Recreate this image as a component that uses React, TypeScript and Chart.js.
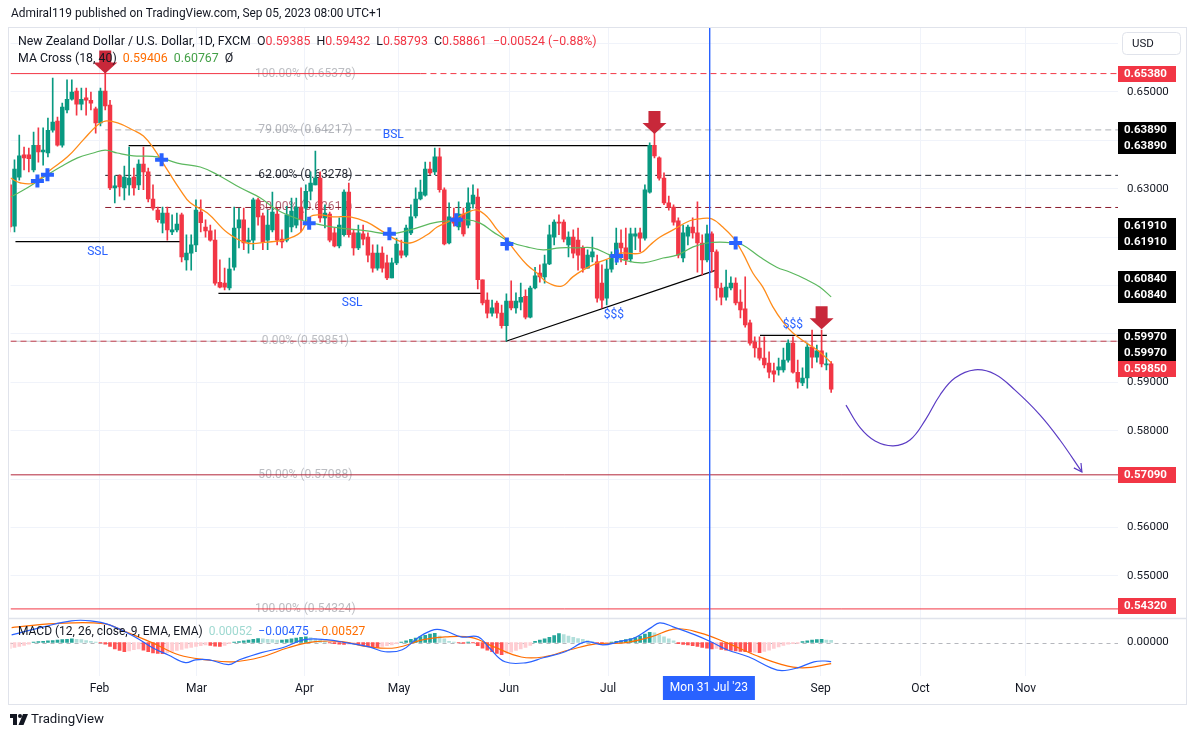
import React, { useEffect, useRef } from "react";
import { Chart, registerables } from "chart.js";

Chart.register(...registerables);

const FONT = "Roboto, 'Liberation Sans', Arial, sans-serif";

// ---------------- DATA ----------------
// daily candles [open, high, low, close], NZD/USD 1D (FXCM)
const candles: number[][] = [
  [0.6308, 0.6318, 0.6211, 0.6221], [0.6223, 0.636, 0.6211, 0.6341], [0.6324, 0.6411, 0.6318, 0.6368], [0.637, 0.6386, 0.6339, 0.6364],
  [0.637, 0.6384, 0.6335, 0.6362], [0.6339, 0.6417, 0.6335, 0.639], [0.639, 0.6426, 0.6355, 0.6376], [0.6376, 0.6426, 0.6349, 0.638],
  [0.6374, 0.6446, 0.6366, 0.6421], [0.6421, 0.6529, 0.6417, 0.6438], [0.644, 0.6448, 0.6388, 0.639], [0.639, 0.6477, 0.6386, 0.6469],
  [0.6463, 0.6525, 0.6457, 0.6485], [0.6485, 0.6525, 0.6483, 0.65], [0.6502, 0.6508, 0.6452, 0.6475], [0.6475, 0.6508, 0.6463, 0.6485],
  [0.6488, 0.6508, 0.6452, 0.6483], [0.6483, 0.65, 0.6463, 0.6477], [0.6465, 0.6469, 0.6415, 0.6436], [0.6436, 0.6508, 0.643, 0.6502],
  [0.6502, 0.6545, 0.6463, 0.6471], [0.6473, 0.6483, 0.6298, 0.6302], [0.6302, 0.6327, 0.6271, 0.6306], [0.6327, 0.6329, 0.6285, 0.6304],
  [0.6302, 0.6347, 0.6277, 0.6324], [0.6308, 0.6386, 0.6287, 0.6322], [0.6324, 0.6343, 0.6287, 0.6302], [0.6308, 0.636, 0.6298, 0.6351],
  [0.6351, 0.6386, 0.6298, 0.6335], [0.6335, 0.6343, 0.6273, 0.6279], [0.6279, 0.6308, 0.6256, 0.626], [0.6256, 0.6262, 0.6231, 0.6236],
  [0.6229, 0.6262, 0.6209, 0.625], [0.625, 0.6262, 0.6194, 0.6215], [0.6211, 0.6246, 0.6205, 0.6215], [0.6215, 0.625, 0.6211, 0.6227],
  [0.6246, 0.625, 0.6149, 0.6159], [0.6153, 0.6205, 0.6132, 0.6167], [0.6167, 0.6205, 0.6132, 0.6184], [0.6184, 0.6277, 0.617, 0.6256],
  [0.6252, 0.6277, 0.6211, 0.623], [0.6221, 0.6236, 0.62, 0.6213], [0.6213, 0.6225, 0.6192, 0.6194], [0.6194, 0.6215, 0.6101, 0.6105],
  [0.6107, 0.6153, 0.6095, 0.6097], [0.6105, 0.6136, 0.6091, 0.6097], [0.6095, 0.6157, 0.6091, 0.6134], [0.6138, 0.6262, 0.6132, 0.6219],
  [0.6219, 0.626, 0.6178, 0.6236], [0.6236, 0.626, 0.6174, 0.6188], [0.619, 0.6219, 0.6167, 0.6194], [0.6194, 0.6281, 0.6174, 0.6277],
  [0.6277, 0.6281, 0.6225, 0.6242], [0.6244, 0.625, 0.6174, 0.619], [0.6194, 0.6256, 0.6174, 0.6225], [0.6215, 0.6293, 0.6211, 0.6252],
  [0.6248, 0.626, 0.6184, 0.6194], [0.6196, 0.6215, 0.6178, 0.619], [0.6194, 0.6264, 0.619, 0.6246], [0.6221, 0.6281, 0.6211, 0.6254],
  [0.6225, 0.6281, 0.6219, 0.6262], [0.6262, 0.6302, 0.6211, 0.6236], [0.626, 0.6308, 0.6225, 0.6295], [0.6295, 0.6335, 0.6277, 0.6312],
  [0.6308, 0.6378, 0.6308, 0.6322], [0.6322, 0.6335, 0.6231, 0.624], [0.624, 0.6267, 0.6219, 0.625], [0.6248, 0.6252, 0.619, 0.6194],
  [0.6209, 0.6219, 0.618, 0.6182], [0.6182, 0.624, 0.6178, 0.6225], [0.6205, 0.6298, 0.6202, 0.6293], [0.6293, 0.6312, 0.62, 0.6205],
  [0.6209, 0.6215, 0.6163, 0.6178], [0.6178, 0.6225, 0.6174, 0.6209], [0.6207, 0.6225, 0.6184, 0.6196], [0.62, 0.6209, 0.6149, 0.6163],
  [0.6167, 0.6184, 0.6128, 0.6136], [0.6136, 0.6184, 0.6132, 0.6167], [0.6167, 0.618, 0.6128, 0.6136], [0.6147, 0.6163, 0.6112, 0.6116],
  [0.6116, 0.6157, 0.6116, 0.6147], [0.6147, 0.6198, 0.6143, 0.6186], [0.6172, 0.6194, 0.6157, 0.6163], [0.6163, 0.6225, 0.6159, 0.6219],
  [0.6209, 0.6267, 0.6205, 0.6242], [0.6244, 0.6302, 0.624, 0.6279], [0.6279, 0.6318, 0.6277, 0.6293], [0.6287, 0.6355, 0.6285, 0.6341],
  [0.6341, 0.6355, 0.6329, 0.6333], [0.6335, 0.6384, 0.6329, 0.6366], [0.6366, 0.6384, 0.6293, 0.6298], [0.6298, 0.6302, 0.6184, 0.6186],
  [0.6188, 0.6271, 0.6186, 0.6242], [0.624, 0.626, 0.6223, 0.6229], [0.6221, 0.6273, 0.6215, 0.6248], [0.6248, 0.626, 0.6202, 0.6207],
  [0.6225, 0.6302, 0.6219, 0.6271], [0.6269, 0.6308, 0.626, 0.6287], [0.6283, 0.63, 0.6093, 0.6112], [0.6112, 0.6112, 0.606, 0.6064],
  [0.607, 0.6085, 0.6033, 0.6043], [0.6043, 0.607, 0.6037, 0.6054], [0.6064, 0.6068, 0.6033, 0.6043], [0.6043, 0.606, 0.6012, 0.6017],
  [0.6017, 0.6083, 0.5985, 0.6068], [0.6068, 0.611, 0.605, 0.6054], [0.6054, 0.6085, 0.6043, 0.6068], [0.6066, 0.6105, 0.605, 0.6076],
  [0.6078, 0.6091, 0.6031, 0.6035], [0.6035, 0.6099, 0.6033, 0.6095], [0.6095, 0.6138, 0.6093, 0.612], [0.6126, 0.6143, 0.6107, 0.6118],
  [0.6118, 0.6163, 0.6105, 0.6145], [0.6145, 0.6225, 0.6143, 0.6205], [0.62, 0.6236, 0.6184, 0.6231], [0.6231, 0.6246, 0.6205, 0.6229],
  [0.6231, 0.6236, 0.619, 0.6196], [0.6184, 0.6211, 0.6159, 0.62], [0.62, 0.6215, 0.6157, 0.6167], [0.6194, 0.6219, 0.6132, 0.6163],
  [0.6178, 0.6182, 0.6128, 0.6136], [0.6136, 0.6174, 0.6136, 0.6163], [0.6159, 0.62, 0.6149, 0.617], [0.6149, 0.6163, 0.6066, 0.6074],
  [0.6105, 0.6143, 0.6054, 0.607], [0.6074, 0.6153, 0.606, 0.6134], [0.6134, 0.617, 0.6128, 0.6163], [0.6163, 0.6219, 0.6143, 0.6188],
  [0.6188, 0.6215, 0.6149, 0.6178], [0.6178, 0.6219, 0.6143, 0.6153], [0.6155, 0.6219, 0.6149, 0.6207], [0.6202, 0.6219, 0.6174, 0.6207],
  [0.6209, 0.6219, 0.617, 0.6198], [0.6198, 0.6308, 0.6194, 0.6298], [0.6293, 0.6395, 0.6291, 0.639], [0.639, 0.6415, 0.6364, 0.6368],
  [0.6364, 0.6366, 0.6318, 0.6322], [0.6322, 0.6333, 0.6267, 0.6271], [0.6271, 0.6285, 0.6256, 0.6262], [0.6262, 0.6267, 0.6225, 0.6231],
  [0.6234, 0.624, 0.6157, 0.6163], [0.6157, 0.6225, 0.6149, 0.6209], [0.6202, 0.6225, 0.6184, 0.6221], [0.6221, 0.624, 0.6198, 0.6209],
  [0.6209, 0.6273, 0.6128, 0.6188], [0.6188, 0.6205, 0.6122, 0.6153], [0.6153, 0.6225, 0.6149, 0.6207], [0.6207, 0.6211, 0.6128, 0.617],
  [0.617, 0.6174, 0.607, 0.6095], [0.6095, 0.6105, 0.606, 0.6076], [0.6076, 0.6132, 0.607, 0.6097], [0.6095, 0.6118, 0.6091, 0.6105],
  [0.6105, 0.6116, 0.606, 0.6064], [0.6066, 0.6091, 0.6033, 0.605], [0.6052, 0.6118, 0.6014, 0.6019], [0.6023, 0.6029, 0.5977, 0.5981],
  [0.5983, 0.5994, 0.5952, 0.5971], [0.5971, 0.5994, 0.5946, 0.595], [0.595, 0.5994, 0.593, 0.5936], [0.594, 0.5963, 0.5909, 0.5921],
  [0.5924, 0.594, 0.5901, 0.5917], [0.5926, 0.595, 0.5915, 0.5932], [0.5926, 0.5971, 0.5921, 0.5946], [0.5946, 0.5988, 0.5942, 0.5981],
  [0.5981, 0.5994, 0.5919, 0.5921], [0.5921, 0.5946, 0.5888, 0.5901], [0.5899, 0.593, 0.5893, 0.5909], [0.5909, 0.5981, 0.5888, 0.5973],
  [0.5973, 0.6008, 0.593, 0.5952], [0.5952, 0.5977, 0.5942, 0.5965], [0.5965, 0.6008, 0.5932, 0.5938], [0.5936, 0.5961, 0.5926, 0.59385],
  [0.59385, 0.59432, 0.58793, 0.58861],
];

// MA Cross (18, 40): [bar index, value]
const ma18: number[][] = [
  [0.2, 0.6322], [2.3, 0.6312], [5, 0.6312], [8.5, 0.6339], [12.1, 0.6366], [15.4, 0.6401], [18.4, 0.6432], [20, 0.644],
  [22.6, 0.6436], [25.9, 0.6421], [28, 0.6409], [30.1, 0.6384], [33, 0.6339], [35.7, 0.6298], [37.8, 0.6271], [41.4, 0.625],
  [45.6, 0.6209], [49.7, 0.6188], [53.9, 0.619], [57.3, 0.6194], [60.8, 0.6209], [62.9, 0.6242], [65, 0.6246], [67.7, 0.6242],
  [71.3, 0.6242], [74.8, 0.6231], [78.2, 0.6211], [81.1, 0.6194], [83.8, 0.6188], [87.4, 0.6205], [89.5, 0.6221], [92.8, 0.6236],
  [96, 0.6252], [97.9, 0.6256], [100, 0.6242], [102.1, 0.6215], [104.1, 0.6194], [106.2, 0.6167], [108.3, 0.6143], [110.4, 0.6126],
  [112.5, 0.6107], [115.6, 0.6099], [117.9, 0.6118], [120, 0.6132], [123, 0.6147], [125.7, 0.6157], [127.8, 0.6167], [132, 0.6167],
  [134.1, 0.6184], [136.1, 0.62], [138.9, 0.6215], [142.4, 0.6234], [144.5, 0.6238], [147, 0.6238], [149.3, 0.6221], [151.4, 0.62],
  [153.5, 0.6167], [155.6, 0.6126], [157.7, 0.6097], [159.8, 0.6056], [161.9, 0.6025], [164, 0.6002], [166.9, 0.5981], [169.6, 0.5963],
  [172, 0.59406],
];
const ma40: number[][] = [
  [0.2, 0.6283], [3.7, 0.6302], [7.1, 0.6324], [10.6, 0.6345], [14.2, 0.6364], [17.5, 0.6374], [20, 0.638], [22.5, 0.6374],
  [25.9, 0.6368], [30.9, 0.6366], [35.1, 0.6353], [39.9, 0.6345], [43.5, 0.6329], [48.3, 0.6302], [52.5, 0.6281], [56, 0.6256],
  [60.8, 0.6236], [64.4, 0.6227], [67.7, 0.6221], [74.8, 0.6213], [79.7, 0.6207], [83.8, 0.6215], [89.5, 0.6231], [95.8, 0.6236],
  [98.5, 0.6229], [101.2, 0.6211], [104.8, 0.619], [108.3, 0.618], [111.7, 0.6174], [115.2, 0.6178], [118.8, 0.6178], [122.1, 0.6178],
  [125.7, 0.6163], [128.4, 0.6153], [132.6, 0.6147], [136.8, 0.6157], [139.7, 0.6163], [143.1, 0.618], [146, 0.6188], [148.7, 0.619],
  [151.4, 0.6188], [153.5, 0.6184], [157.1, 0.6159], [160.6, 0.6138], [163.3, 0.6128], [166.9, 0.6112], [169.6, 0.6097], [172, 0.60767],
];
const maCrosses: number[][] = [
  [5.8, 0.6316], [7.9, 0.6329], [31.8, 0.636], [62.7, 0.6229], [79.5, 0.6207], [93.5, 0.6236], [104.1, 0.6186], [127.1, 0.6161], [152.0, 0.6188],
];

// MACD (12, 26, close, 9)
const macdLine: number[][] = [
  [0.4, 0.0019], [7.1, 0.0039], [12.9, 0.0054], [16.9, 0.0054], [20.9, 0.0044], [26.5, 0.0012], [29.9, -0.0013], [33.2, -0.0031],
  [36.8, -0.005], [38.9, -0.0043], [41.8, -0.0043], [45.8, -0.0055], [48.1, -0.0043], [52.7, -0.0025], [57.1, -0.0013], [61.7, 0.0007],
  [66.3, 0.0007], [70.7, -0.0001], [75.3, -0.0011], [78.6, -0.0023], [82.2, -0.0018], [85.5, 0.0012], [88.9, 0.0032], [91.2, 0.0029],
  [94.5, 0.0014], [98.1, 0.0014], [100.4, -0.0013], [103.7, -0.0048], [108.3, -0.005], [111.7, -0.0038], [116.3, -0.0023], [120.7, 0.0002],
  [124.2, -0.0006], [127.6, 0.0002], [130.9, 0.0012], [134.3, 0.0037], [136.1, 0.0049], [138.9, 0.0039], [143.5, 0.0019], [146.8, 0.0002],
  [150.2, -0.0018], [154.8, -0.0036], [159.4, -0.0063], [161.7, -0.007], [165.0, -0.0063], [168.4, -0.0048], [170.7, -0.0046], [172, -0.00475],
];
const signalLine: number[][] = [
  [0.4, 0.0037], [9.4, 0.0047], [19.6, 0.0047], [24.2, 0.0027], [29.9, -0.0001], [35.5, -0.0031], [41.2, -0.0043], [46.8, -0.0048],
  [52.7, -0.0036], [58.3, -0.0013], [64, 0.0002], [69.6, 0.0002], [75.3, -0.0011], [80.9, -0.0013], [86.6, 0.0007], [91.2, 0.0014],
  [96.8, 0.0012], [101.4, -0.0011], [107.1, -0.0036], [111.7, -0.0036], [117.3, -0.0018], [123, -0.0003], [128.6, -0.0001], [134.3, 0.0014],
  [139.5, 0.0034], [144.5, 0.0024], [150.2, -0.0001], [156.0, -0.0031], [161.7, -0.0055], [166.1, -0.0063], [172, -0.00527],
];
const macdHist: number[] = [
  -0.0015, -0.0012, -0.001, -0.0007, -0.0004, 0.0001, 0.0002, 0.0003, 0.0004, 0.0005, 0.0006, 0.0007, 0.0008, 0.0009, 0.0008, 0.0007,
  0.0005, 0.0003, 0.0001, -0.0001, -0.0004, -0.001, -0.0016, -0.002, -0.0023, -0.0021, -0.0018, -0.0016, -0.0019, -0.0023, -0.0026, -0.0027,
  -0.0028, -0.0025, -0.0022, -0.002, -0.0017, -0.0014, -0.0012, -0.001, -0.0008, -0.0006, -0.0007, -0.0009, -0.001, -0.0007, -0.0003, 0.0001,
  0.0002, 0.0004, 0.0006, 0.0008, 0.001, 0.0009, 0.0008, 0.0007, 0.0006, 0.0006, 0.0007, 0.0009, 0.0011, 0.0013, 0.0014, 0.0012,
  0.0009, 0.0006, 0.0003, -0.0001, -0.0003, -0.0004, -0.0005, -0.0004, -0.0003, -0.0005, -0.0007, -0.0009, -0.0011, -0.0012, -0.001, -0.0008,
  -0.0006, -0.0003, 0.0001, 0.0004, 0.0008, 0.0011, 0.0015, 0.0018, 0.0021, 0.0023, 0.0016, 0.0009, 0.0003, 0.0001, -0.0001, -0.0002,
  0.0001, -0.0001, -0.0008, -0.0014, -0.0019, -0.0023, -0.0027, -0.003, -0.0027, -0.0024, -0.002, -0.0016, -0.0012, -0.0007, 0.0003, 0.0006,
  0.0009, 0.0013, 0.0017, 0.0022, 0.002, 0.0016, 0.0013, 0.001, 0.0008, 0.0005, 0.0002, -0.0003, -0.0004, -0.0002, 0.0001, 0.0003,
  0.0005, 0.0007, 0.001, 0.0012, 0.0016, 0.0021, 0.0025, 0.0024, 0.0019, 0.0014, 0.0009, 0.0004, -0.0003, -0.0005, -0.0006, -0.0008,
  -0.001, -0.0012, -0.0014, -0.0016, -0.0015, -0.0017, -0.0019, -0.002, -0.0021, -0.0022, -0.0023, -0.0024, -0.0024, -0.0025, -0.0022, -0.0019,
  -0.0015, -0.0011, -0.0007, -0.0004, -0.0003, -0.0002, 0.0002, 0.0004, 0.0006, 0.0007, 0.0008, 0.0006, 0.00052,
];

// time axis
const monthTickIdx: number[] = [18.8, 39.1, 61.7, 81.5, 104.6, 125.3, 146.6, 169.8, 190.7, 212.7];
const monthLabels: string[] = ["Feb", "Mar", "Apr", "May", "Jun", "Jul", "Aug", "Sep", "Oct", "Nov"];
const priceTicks: number[] = [0.55, 0.56, 0.57, 0.58, 0.59, 0.6, 0.61, 0.62, 0.63, 0.64, 0.65, 0.66];
const crosshairIdx = 146.4;
const crosshairLabel = "Mon 31 Jul '23";

// horizontal levels
const redLevels: number[] = [0.6538, 0.5985, 0.5709, 0.5432];
const fibPercents: string[] = ["100.00%", "79.00%", "62.00%", "50.00%", "0.00%", "50.00%", "100.00%"];
const fibValues: number[] = [0.65378, 0.64217, 0.63278, 0.62614, 0.59851, 0.57088, 0.54324];
const fibStartIdx = 20;
const fibLabelIdx = 61.9;
const axisMarks: number[] = [0.6538, 0.6389, 0.6389, 0.6191, 0.6191, 0.6084, 0.6084, 0.5997, 0.5997, 0.5985, 0.5709, 0.5432];

// drawn structure
const bslLine: number[][] = [[24.9, 0.6389], [134.5, 0.6389]];
const sslLine1: number[][] = [[1.2, 0.6191], [35.7, 0.6191]];
const sslLine2: number[][] = [[43.7, 0.6084], [99.2, 0.6084]];
const trendLine: number[][] = [[103.9, 0.5985], [147.9, 0.6132]];
const liquidityLine: number[][] = [[157.1, 0.5997], [171.1, 0.5997]];
const textNotes: [string, number, number][] = [
  ["BSL", 80.3, 0.6411], ["SSL", 18.4, 0.617], ["SSL", 71.7, 0.6064], ["$$$", 126.5, 0.6039], ["$$$", 164.0, 0.6019],
];
const arrowTips: number[][] = [[20, 0.6538], [135, 0.6413], [170, 0.601]];
const projection: number[][] = [
  [175.1, 0.5853], [178.1, 0.5806], [181.2, 0.5779], [185.0, 0.5769], [188.5, 0.5781], [191.7, 0.5822], [194.8, 0.5874],
  [197.9, 0.5909], [202.1, 0.5926], [206.3, 0.5917], [210.5, 0.5884], [215.7, 0.5833], [219.9, 0.5781], [224.5, 0.5715],
];

// ---------------- CHART ----------------
const X_MIN = 0.163, X_MAX = 232.06;
const P_MIN = 0.541322, P_MAX = 0.663223;
const M_MIN = -0.008333, M_MAX = 0.006095;

const UP = "#089981", DOWN = "#f23645", DARK = "#131722", BLUE = "#2962ff";

const pts = (a: number[][]) => a.map((p) => ({ x: p[0], y: p[1] }));

function fitSize(ctx: CanvasRenderingContext2D, text: string, width: number, weight = "") {
  ctx.font = `${weight} 100px ${FONT}`;
  return (100 * width) / ctx.measureText(text).width;
}
function drawSegs(ctx: CanvasRenderingContext2D, x: number, y: number, size: number, segs: [string, string][]) {
  ctx.font = `${size}px ${FONT}`;
  ctx.textBaseline = "middle";
  ctx.textAlign = "left";
  let cx = x;
  for (const [t, c] of segs) {
    ctx.fillStyle = c;
    ctx.fillText(t, cx, y);
    cx += ctx.measureText(t).width;
  }
}

const overlay = {
  id: "overlay",
  beforeDraw(chart: any) {
    const { ctx, width, height } = chart;
    ctx.save();
    ctx.fillStyle = "#ffffff";
    ctx.fillRect(0, 0, width, height);
    ctx.restore();
  },
  beforeDatasetsDraw(chart: any) {
    const { ctx, chartArea } = chart;
    const xs = chart.scales.x, ys = chart.scales.y, ms = chart.scales.macd;
    ctx.save();
    // pane separator
    ctx.strokeStyle = "#e0e3eb";
    ctx.lineWidth = 1.5;
    ctx.beginPath();
    ctx.moveTo(8, ys.bottom + 0.5);
    ctx.lineTo(1186, ys.bottom + 0.5);
    ctx.stroke();
    // macd zero line
    const z = Math.round(ms.getPixelForValue(0)) + 0.5;
    ctx.strokeStyle = "rgba(120,123,134,0.55)";
    ctx.lineWidth = 1;
    ctx.setLineDash([4, 4]);
    ctx.beginPath();
    ctx.moveTo(chartArea.left, z);
    ctx.lineTo(chartArea.right, z);
    ctx.stroke();
    ctx.setLineDash([]);
    // fib labels
    const fibColors = ["rgba(120,123,134,0.5)", "rgba(120,123,134,0.55)", "rgba(19,23,34,0.9)", "rgba(136,14,40,0.65)",
      "rgba(120,123,134,0.5)", "rgba(120,123,134,0.5)", "rgba(120,123,134,0.5)"];
    const size = fitSize(ctx, "79.00% (0.64217)", 94);
    ctx.font = `${size}px ${FONT}`;
    ctx.textAlign = "center";
    ctx.textBaseline = "middle";
    fibValues.forEach((v, i) => {
      ctx.fillStyle = fibColors[i];
      ctx.fillText(`${fibPercents[i]} (${v.toFixed(5)})`, xs.getPixelForValue(fibLabelIdx), ys.getPixelForValue(v));
    });
    ctx.restore();
  },
  afterDatasetsDraw(chart: any) {
    const { ctx } = chart;
    const xs = chart.scales.x, ys = chart.scales.y;
    ctx.save();
    // notes
    ctx.fillStyle = BLUE;
    ctx.font = `12px ${FONT}`;
    ctx.textAlign = "center";
    ctx.textBaseline = "middle";
    textNotes.forEach(([t, i, v]) => ctx.fillText(t, xs.getPixelForValue(i), ys.getPixelForValue(v)));
    // arrows
    ctx.fillStyle = "#c8283a";
    arrowTips.forEach(([i, v]) => {
      const x = xs.getPixelForValue(i), y = ys.getPixelForValue(v);
      ctx.beginPath();
      ctx.moveTo(x - 6, y - 23);
      ctx.lineTo(x + 6, y - 23);
      ctx.lineTo(x + 6, y - 11);
      ctx.lineTo(x + 12, y - 11);
      ctx.lineTo(x, y);
      ctx.lineTo(x - 12, y - 11);
      ctx.lineTo(x - 6, y - 11);
      ctx.closePath();
      ctx.fill();
    });
    // projection arrow head
    const n = projection.length;
    const ex = xs.getPixelForValue(projection[n - 1][0]), ey = ys.getPixelForValue(projection[n - 1][1]);
    const px = xs.getPixelForValue(projection[n - 2][0]), py = ys.getPixelForValue(projection[n - 2][1]);
    const ang = Math.atan2(ey - py, ex - px);
    ctx.strokeStyle = "#5b3cc4";
    ctx.lineWidth = 1.2;
    ctx.beginPath();
    ctx.moveTo(ex - 9 * Math.cos(ang - 0.5), ey - 9 * Math.sin(ang - 0.5));
    ctx.lineTo(ex, ey);
    ctx.lineTo(ex - 9 * Math.cos(ang + 0.5), ey - 9 * Math.sin(ang + 0.5));
    ctx.stroke();
    ctx.restore();
  },
  afterDraw(chart: any) {
    const { ctx, chartArea } = chart;
    const xs = chart.scales.x, ys = chart.scales.y;
    ctx.save();
    // crosshair vertical line
    const cxl = Math.round(xs.getPixelForValue(crosshairIdx));
    ctx.fillStyle = BLUE;
    ctx.fillRect(cxl, chartArea.top, 1.4, chartArea.bottom + 24 - chartArea.top);
    // axis value boxes
    const offsets = [0, -16, 0, -16, 0, -14, 2, 2, 18, 28, 0, -3];
    const red = [true, false, false, false, false, false, false, false, false, true, true, true];
    axisMarks.forEach((v, i) => {
      const y = ys.getPixelForValue(v) + offsets[i];
      ctx.fillStyle = red[i] ? DOWN : "#000000";
      ctx.fillRect(chartArea.right, Math.round(y - 8), 58, 16);
      ctx.fillStyle = "#ffffff";
      ctx.font = `bold 11.5px ${FONT}`;
      ctx.textAlign = "left";
      ctx.textBaseline = "middle";
      ctx.fillText(v.toFixed(5), chartArea.right + 6, Math.round(y) + 0.5);
    });
    // time label
    const cx = xs.getPixelForValue(crosshairIdx);
    ctx.fillStyle = BLUE;
    ctx.fillRect(cx - 46, chartArea.bottom, 92, 24);
    ctx.fillStyle = "#ffffff";
    ctx.font = `12px ${FONT}`;
    ctx.textAlign = "center";
    ctx.textBaseline = "middle";
    ctx.fillText(crosshairLabel, cx, chartArea.bottom + 12);
    // legends
    const last = candles[candles.length - 1];
    const prev = candles[candles.length - 2];
    const chg = last[3] - prev[3];
    const minus = (v: number, d: number) => (v < 0 ? "\u2212" : "") + Math.abs(v).toFixed(d);
    const s1 = fitSize(ctx, "New Zealand Dollar / U.S. Dollar, 1D, FXCM", 233);
    drawSegs(ctx, 18, 42, s1, [
      ["New Zealand Dollar / U.S. Dollar, 1D, FXCM", DARK], ["  O", DARK], [last[0].toFixed(5), DOWN],
      ["  H", DARK], [last[1].toFixed(5), DOWN], ["  L", DARK], [last[2].toFixed(5), DOWN],
      ["  C", DARK], [last[3].toFixed(5), DOWN], [`  ${minus(chg, 5)} (${minus((chg / prev[3]) * 100, 2)}%)`, DOWN],
    ]);
    drawSegs(ctx, 18, 59, s1, [
      ["MA Cross (18, 40)", DARK], ["  " + ma18[ma18.length - 1][1].toFixed(5), "#ff6d00"],
      ["  " + ma40[ma40.length - 1][1].toFixed(5), "#43a047"], ["  \u00d8", DARK],
    ]);
    const s3 = fitSize(ctx, "MACD (12, 26, close, 9, EMA, EMA)", 185);
    drawSegs(ctx, 18, 632, s3, [
      ["MACD (12, 26, close, 9, EMA, EMA)", DARK], ["  " + macdHist[macdHist.length - 1].toFixed(5), "#9fd9d1"],
      ["  " + minus(macdLine[macdLine.length - 1][1], 5), BLUE],
      ["  " + minus(signalLine[signalLine.length - 1][1], 5), "#ff6d00"],
    ]);
    // title
    const st = fitSize(ctx, "Admiral119 published on TradingView.com, Sep 05, 2023 08:00 UTC+1", 372);
    drawSegs(ctx, 11, 14, st, [["Admiral119 published on TradingView.com, Sep 05, 2023 08:00 UTC+1", DARK]]);
    // USD button
    ctx.strokeStyle = "#e0e3eb";
    ctx.lineWidth = 1;
    ctx.fillStyle = "#ffffff";
    ctx.beginPath();
    (ctx as any).roundRect(1122.5, 32.5, 58, 22, 4);
    ctx.fill();
    ctx.stroke();
    ctx.fillStyle = DARK;
    ctx.font = `11.5px ${FONT}`;
    ctx.textAlign = "left";
    ctx.fillText("USD", 1132, 44);
    // frame
    ctx.strokeStyle = "#e0e3eb";
    ctx.strokeRect(8.5, 27.5, 1178, 677);
    // logo
    ctx.fillStyle = DARK;
    ctx.fillRect(10, 714, 7, 4);
    ctx.fillRect(13, 714, 4, 11);
    ctx.beginPath();
    ctx.arc(20, 716, 2, 0, Math.PI * 2);
    ctx.fill();
    ctx.beginPath();
    ctx.moveTo(23, 714);
    ctx.lineTo(28, 714);
    ctx.lineTo(23.5, 725);
    ctx.lineTo(18.5, 725);
    ctx.closePath();
    ctx.fill();
    const sl = fitSize(ctx, "TradingView", 73);
    drawSegs(ctx, 31, 720, sl, [["TradingView", DARK]]);
    ctx.restore();
  },
};

function buildConfig(): any {
  const candleColors = candles.map((c) => (c[3] >= c[0] ? UP : DOWN));
  const histColors = macdHist.map((v, i) => {
    const p = i > 0 ? macdHist[i - 1] : v;
    if (v >= 0) return v >= p ? "#26a69a" : "#b2dfdb";
    return v < p ? "#ff5252" : "#ffcdd2";
  });
  const hLine = (data: number[][], color: string, width: number, dash: number[] = [], order = 20) => ({
    type: "line", data: pts(data), borderColor: color, borderWidth: width, borderDash: dash,
    pointRadius: 0, yAxisID: "y", order, tension: 0,
  });
  const datasets: any[] = [
    // red horizontal levels
    hLine([[X_MIN, redLevels[0]], [86, redLevels[0]]], "#f23645", 1),
    hLine([[86, redLevels[0]], [X_MAX, redLevels[0]]], "#f23645", 1, [6, 4]),
    hLine([[X_MIN, redLevels[1]], [X_MAX, redLevels[1]]], "rgba(120,123,134,0.45)", 1),
    hLine([[X_MIN, redLevels[1]], [X_MAX, redLevels[1]]], "#f23645", 1, [6, 4]),
    hLine([[X_MIN, redLevels[2]], [X_MAX, redLevels[2]]], "#b2263a", 1),
    hLine([[X_MIN, redLevels[3]], [X_MAX, redLevels[3]]], "#f23645", 1),
    // fib dashed lines
    hLine([[fibStartIdx, fibValues[1]], [X_MAX, fibValues[1]]], "rgba(120,123,134,0.6)", 1, [6, 4]),
    hLine([[fibStartIdx, fibValues[2]], [X_MAX, fibValues[2]]], DARK, 1, [6, 4]),
    hLine([[fibStartIdx, fibValues[3]], [X_MAX, fibValues[3]]], "#8b1a2b", 1, [6, 4]),
    // structure lines
    hLine(bslLine, "#000000", 1.3, [], 19),
    hLine(sslLine1, "#000000", 1.3, [], 19),
    hLine(sslLine2, "#000000", 1.3, [], 19),
    hLine(trendLine, "#000000", 1.3, [], 19),
    hLine(liquidityLine, "#000000", 1.3, [], 19),
    // candles
    {
      type: "bar", data: candles.map((c, i) => ({ x: i, y: [c[2], c[1]] })), backgroundColor: candleColors,
      barThickness: 1, grouped: false, yAxisID: "y", order: 8, borderWidth: 0, minBarLength: 1,
    },
    {
      type: "bar", data: candles.map((c, i) => ({ x: i, y: [Math.min(c[0], c[3]), Math.max(c[0], c[3])] })),
      backgroundColor: candleColors, barThickness: 3.8, grouped: false, yAxisID: "y", order: 7, borderWidth: 0, minBarLength: 1,
    },
    // MAs
    { type: "line", data: pts(ma40), borderColor: "#5cb85f", borderWidth: 1.2, pointRadius: 0, tension: 0.4, yAxisID: "y", order: 5 },
    { type: "line", data: pts(ma18), borderColor: "#ff8c1a", borderWidth: 1.3, pointRadius: 0, tension: 0.4, yAxisID: "y", order: 4 },
    {
      type: "line", data: pts(maCrosses), showLine: false, pointStyle: "cross", pointRadius: 6.5, pointBorderWidth: 4,
      pointBorderColor: BLUE, pointBackgroundColor: BLUE, yAxisID: "y", order: 2,
    },
    // projection
    { type: "line", data: pts(projection), borderColor: "#5b3cc4", borderWidth: 1.2, pointRadius: 0, tension: 0.4, yAxisID: "y", order: 3 },
    // MACD
    {
      type: "bar", data: macdHist.map((v, i) => ({ x: i, y: v })), backgroundColor: histColors, barThickness: 3,
      grouped: false, yAxisID: "macd", order: 9, borderWidth: 0,
    },
    { type: "line", data: pts(signalLine), borderColor: "#ff6d00", borderWidth: 1.2, pointRadius: 0, tension: 0.4, yAxisID: "macd", order: 6 },
    { type: "line", data: pts(macdLine), borderColor: BLUE, borderWidth: 1.2, pointRadius: 0, tension: 0.4, yAxisID: "macd", order: 5 },
  ];

  const tickFont = { family: FONT, size: 11.5 };
  return {
    type: "bar",
    data: { datasets },
    plugins: [overlay],
    options: {
      animation: false,
      responsive: false,
      events: [],
      layout: { padding: { left: 10, top: 28, right: 0, bottom: 35 } },
      plugins: { legend: { display: false }, tooltip: { enabled: false } },
      scales: {
        x: {
          type: "linear", min: X_MIN, max: X_MAX, position: "bottom", offset: false,
          afterBuildTicks: (s: any) => { s.ticks = monthTickIdx.map((v) => ({ value: v })); },
          afterFit: (s: any) => { s.height = 27; },
          ticks: { autoSkip: false, maxRotation: 0, padding: 6, color: DARK, font: { family: FONT, size: 12 },
            callback: (_v: any, i: number) => monthLabels[i] },
          grid: { color: "#f0f3fa", drawTicks: false, offset: false },
          border: { display: false },
        },
        y: {
          type: "linear", position: "right", stack: "pane", stackWeight: 590, min: P_MIN, max: P_MAX,
          afterBuildTicks: (s: any) => { s.ticks = priceTicks.map((v) => ({ value: v })); },
          afterFit: (s: any) => { s.width = 77; },
          ticks: { autoSkip: false, padding: 9, color: DARK, font: tickFont, callback: (v: any) => Number(v).toFixed(5) },
          grid: { color: "#f0f3fa", drawTicks: false },
          border: { display: false },
        },
        macd: {
          type: "linear", position: "right", stack: "pane", stackWeight: 58, min: M_MIN, max: M_MAX,
          afterBuildTicks: (s: any) => { s.ticks = [{ value: 0 }]; },
          afterFit: (s: any) => { s.width = 77; },
          ticks: { autoSkip: false, padding: 9, color: DARK, font: tickFont, callback: () => (0).toFixed(5) },
          grid: { display: false, drawTicks: false },
          border: { display: false },
        },
      },
    },
  };
}

export default function App() {
  const ref = useRef<HTMLCanvasElement>(null);
  useEffect(() => {
    const chart = new Chart(ref.current as HTMLCanvasElement, buildConfig());
    return () => chart.destroy();
  }, []);
  return (
    <div style={{ position: "fixed", left: 0, top: 0, width: 1195, height: 738, background: "#ffffff" }}>
      <canvas ref={ref} width={1195} height={738} style={{ display: "block", width: 1195, height: 738 }} />
    </div>
  );
}
